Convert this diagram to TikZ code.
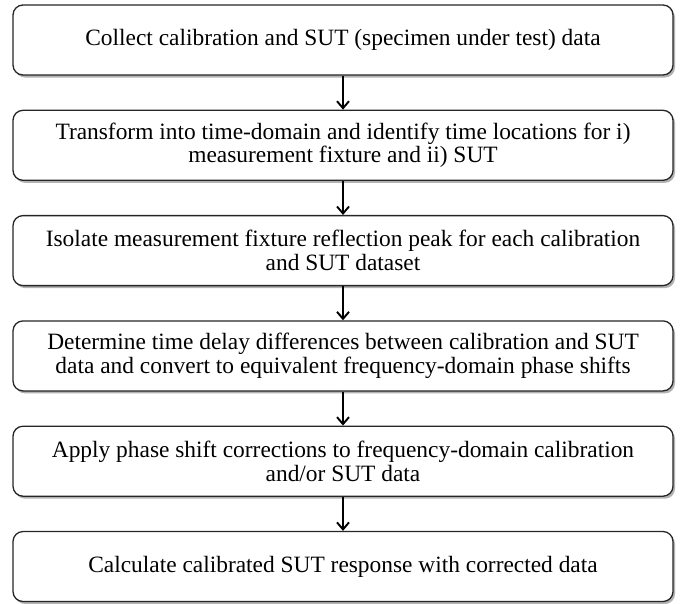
\documentclass[tikz,border=0pt]{standalone}
\usepackage{fontspec}
\setmainfont{Liberation Serif}
\usetikzlibrary{arrows.meta,shadows}
\begin{document}
\begin{tikzpicture}[x=1pt,y=1pt,
  stepbox/.style={draw=black!85, line width=1.3pt, rounded corners=10pt, fill=white,
    minimum width=660pt, minimum height=70pt, align=center, inner sep=0pt,
    font=\fontsize{23.4}{23.8}\selectfont,
    drop shadow={shadow xshift=2pt, shadow yshift=-2.5pt, fill=black, opacity=0.3}},
  flow/.style={-{Straight Barb[length=7pt,width=12pt]}, line width=1.9pt, black}]
\useasboundingbox (0,0) rectangle (684,-603);
\node[stepbox] (s1) at (343,-40) {Collect calibration and SUT (specimen under test) data};
\node[stepbox] (s2) at (343,-145.3) {Transform into time-domain and identify time locations for i)\\measurement fixture and ii) SUT};
\node[stepbox] (s3) at (343,-250.6) {Isolate measurement fixture reflection peak for each calibration\\and SUT dataset};
\node[stepbox] (s4) at (343,-355.9) {Determine time delay differences between calibration and SUT\\data and convert to equivalent frequency-domain phase shifts};
\node[stepbox] (s5) at (343,-461.2) {Apply phase shift corrections to frequency-domain calibration\\and/or SUT data};
\node[stepbox] (s6) at (343,-566.5) {Calculate calibrated SUT response with corrected data};
\draw[flow] (s1) -- (s2);
\draw[flow] (s2) -- (s3);
\draw[flow] (s3) -- (s4);
\draw[flow] (s4) -- (s5);
\draw[flow] (s5) -- (s6);
\end{tikzpicture}
\end{document}
